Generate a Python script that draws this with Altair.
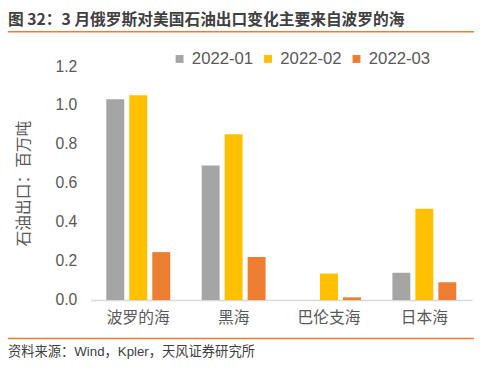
import altair as alt
import pandas as pd

categories = ["波罗的海", "黑海", "巴伦支海", "日本海"]
series = ["2022-01", "2022-02", "2022-03"]
v_2022_01 = [1.03, 0.69, 0.0, 0.14]
v_2022_02 = [1.05, 0.85, 0.136, 0.468]
v_2022_03 = [0.246, 0.221, 0.014, 0.091]
colors = ["#A5A5A5", "#FFC000", "#ED7D31"]
y_ticks = [0.0, 0.2, 0.4, 0.6, 0.8, 1.0, 1.2]

rows = []
for s, vals in zip(series, [v_2022_01, v_2022_02, v_2022_03]):
    for c, v in zip(categories, vals):
        rows.append({"region": c, "month": s, "value": v})
df = pd.DataFrame(rows)

FONT = "Liberation Sans, Noto Sans CJK SC"
CJK = "Noto Sans CJK SC"
W, H = 388, 238
PL, PT = 84, 56

bars = alt.Chart(df).mark_bar().encode(
    x=alt.X("region:N", sort=categories, title=None,
            scale=alt.Scale(paddingInner=0.33, paddingOuter=0.165),
            axis=alt.Axis(labelAngle=0, labelFontSize=16, labelColor="#595959",
                          labelFont=CJK, labelPadding=10, ticks=False,
                          domainColor="#D9D9D9", domainWidth=1.5)),
    xOffset=alt.XOffset("month:N", sort=series,
                        scale=alt.Scale(paddingInner=0.22)),
    y=alt.Y("value:Q", title="石油出口：百万吨",
            scale=alt.Scale(domain=[0, 1.2]),
            axis=alt.Axis(values=y_ticks, format=".1f", grid=False, domain=False,
                          ticks=False, labelFontSize=16, labelColor="#595959",
                          labelFont=FONT, labelPadding=14,
                          titleFontSize=16, titleColor="#595959", titleFont=CJK,
                          titleFontWeight="normal", titlePadding=24)),
    color=alt.Color("month:N", sort=series,
                    scale=alt.Scale(domain=series, range=colors),
                    legend=alt.Legend(title=None, orient="none", direction="horizontal",
                                      legendX=82, legendY=-16,
                                      symbolType="square", symbolSize=64,
                                      symbolStrokeWidth=0,
                                      labelFontSize=17, labelColor="#595959",
                                      labelFont=FONT, labelOffset=4,
                                      columnPadding=6)),
)

title_df = pd.DataFrame({"t": ["图 32：3 月俄罗斯对美国石油出口变化主要来自波罗的海"]})
title = alt.Chart(title_df).mark_text(
    align="left", baseline="middle", fontSize=16, fontWeight="bold",
    font=CJK, color="#404040"
).encode(x=alt.value(-PL), y=alt.value(-PT + 9), text="t:N")

src_df = pd.DataFrame({"t": ["资料来源：Wind，Kpler，天风证券研究所"]})
source = alt.Chart(src_df).mark_text(
    align="left", baseline="middle", fontSize=13.5,
    font=FONT, color="#404040"
).encode(x=alt.value(-PL), y=alt.value(H + 53), text="t:N")

top_line = alt.Chart(title_df).mark_rule(color="#ED7D31", strokeWidth=1.5).encode(
    x=alt.value(-PL - 8), x2=alt.value(W + 10), y=alt.value(-PT + 21))
bot_line = alt.Chart(title_df).mark_rule(color="#ED7D31", strokeWidth=1.5).encode(
    x=alt.value(-PL - 8), x2=alt.value(W + 10), y=alt.value(H + 39))

chart = alt.layer(bars, top_line, bot_line, title, source).properties(
    width=W, height=H,
    autosize=alt.AutoSizeParams(type="none"),
    padding={"left": PL, "top": PT, "right": 2, "bottom": 66},
    background="white",
).configure_view(stroke=None)

chart.save("out.html", embed_options={"renderer": "svg", "actions": False})
